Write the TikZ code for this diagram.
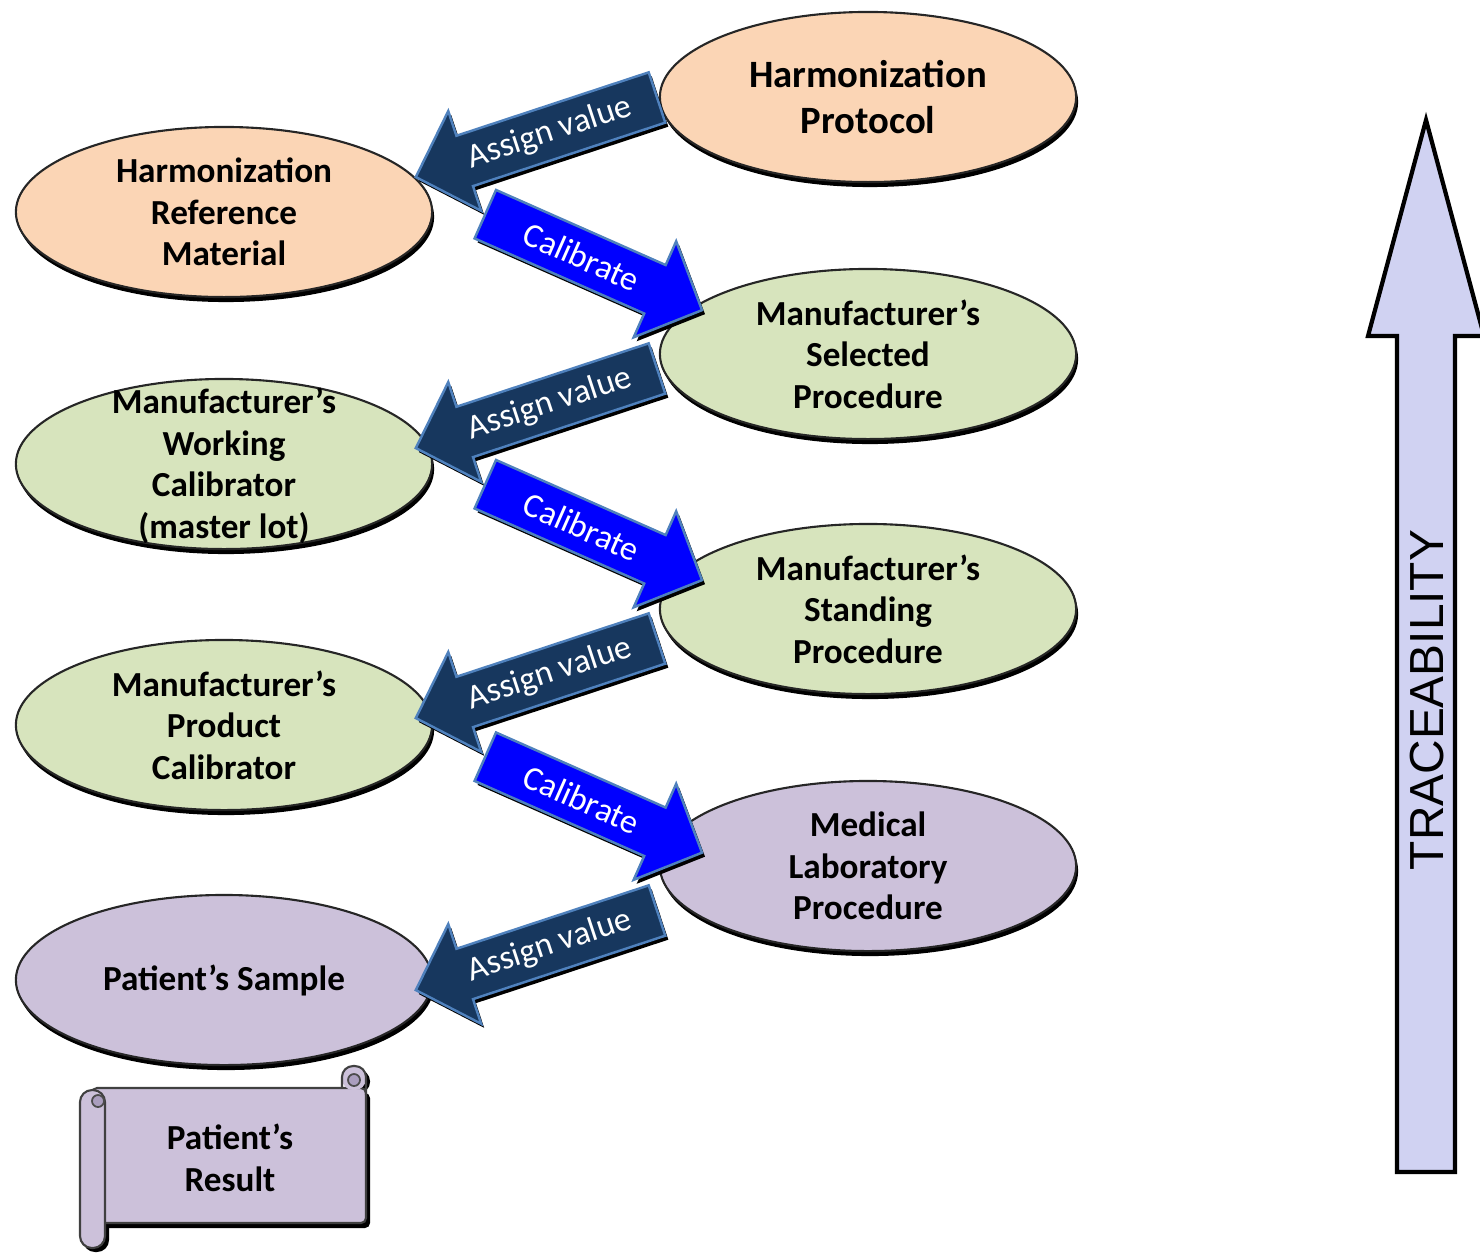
\documentclass[tikz,border=0pt]{standalone}
\usepackage{fontspec}
\setmainfont{Carlito}
\newfontfamily\arialf{Liberation Sans}
\usetikzlibrary{shapes.geometric,shadows}
\definecolor{peach}{RGB}{251,213,181}
\definecolor{sage}{RGB}{215,228,189}
\definecolor{lilac}{RGB}{204,193,218}
\definecolor{lilacdark}{RGB}{170,158,190}
\definecolor{navy}{RGB}{23,55,94}
\definecolor{edgeblue}{RGB}{79,129,189}
\definecolor{calblue}{RGB}{0,0,255}
\definecolor{tracefill}{RGB}{208,210,242}
\tikzset{
  ell/.style={ellipse, draw=black!85, line width=0.6pt, minimum width=4.16cm, minimum height=1.70cm, inner sep=0pt,
    drop shadow={shadow xshift=0.02cm, shadow yshift=-0.05cm, fill=black, opacity=1}},
  elltext/.style={font=\bfseries\fontsize{10}{11.8}\selectfont, align=center, inner sep=0pt},
  arrowtext/.style={font=\fontsize{9.7}{11}\selectfont, text=white, inner sep=0pt},
}
% tailx, taily, angle, length, fill, text, textangle, name
\newcommand\barrow[8]{%
  \begin{scope}[shift={(#1+3,#2+4)},rotate=#3]
    \fill[black] (0,-26.5) -- (#4-51.5,-26.5) -- (#4-51.5,-52.5) -- (#4,0) -- (#4-51.5,52.5) -- (#4-51.5,26.5) -- (0,26.5) -- cycle;
  \end{scope}
  \begin{scope}[shift={(#1,#2)},rotate=#3]
    \draw[edgeblue, fill=#5, line width=0.7pt, line join=miter] (0,-26.5) -- (#4-51.5,-26.5) -- (#4-51.5,-52.5) -- (#4,0) -- (#4-51.5,52.5) -- (#4-51.5,26.5) -- (0,26.5) -- cycle;
    \node[arrowtext, rotate=#7] (#8) at (0.445*#4,0) {#6};
  \end{scope}}
\begin{document}
\begin{tikzpicture}[x=0.01cm, y=-0.01cm]
\useasboundingbox (0,0) rectangle (1480,1254);

% ellipses
\node[ell, fill=peach] (hp) at (868,97) {};
\node[elltext, font=\bfseries\fontsize{11}{13.1}\selectfont] (hpT) at (hp) {Harmonization\\Protocol};
\node[ell, fill=peach] (hrm) at (224,212) {};
\node[elltext] (hrmT) at (hrm) {Harmonization\\Reference\\Material};
\node[ell, fill=sage] (msp) at (868,354) {};
\node[elltext] (mspT) at (msp) {Manufacturer’s\\Selected\\Procedure};
\node[ell, fill=sage] (mwc) at (224,464) {};
\node[elltext] (mwcT) at ([yshift=-0.02cm]mwc) {Manufacturer’s\\Working\\Calibrator\\(master lot)};
\node[ell, fill=sage] (mstp) at (868,609) {};
\node[elltext] (mstpT) at (mstp) {Manufacturer’s\\Standing\\Procedure};
\node[ell, fill=sage] (mpc) at (224,725) {};
\node[elltext] (mpcT) at (mpc) {Manufacturer’s\\Product\\Calibrator};
\node[ell, fill=lilac] (mlp) at (868,866) {};
\node[elltext] (mlpT) at (mlp) {Medical\\Laboratory\\Procedure};
\node[ell, fill=lilac] (ps) at (224,980) {};
\node[elltext] (psT) at (ps) {Patient’s Sample};

% block arrows
\barrow{657}{97.5}{198.26}{254}{navy}{Assign value}{18.26}{a1}
\barrow{485.3}{214.2}{-23.88}{237}{calblue}{Calibrate}{-23.88}{c1}
\barrow{657}{368.5}{198.26}{254}{navy}{Assign value}{18.26}{a2}
\barrow{485.3}{484.2}{-23.88}{237}{calblue}{Calibrate}{-23.88}{c2}
\barrow{657}{638.5}{198.26}{254}{navy}{Assign value}{18.26}{a3}
\barrow{485.3}{756.7}{-23.88}{237}{calblue}{Calibrate}{-23.88}{c3}
\barrow{657}{910.5}{198.26}{254}{navy}{Assign value}{18.26}{a4}

% scroll
\fill[black, rounded corners=0.05cm] (95,1093) rectangle (370,1228);
\fill[black, rounded corners=0.12cm] (83,1094) rectangle (109,1252);
\fill[black, rounded corners=0.11cm] (345,1070) rectangle (370,1093);
\draw[fill=lilac, draw=black!75, line width=0.6pt, rounded corners=0.05cm] (92,1088) rectangle (366,1223);
\fill[lilac, rounded corners=0.11cm] (342,1090) -- (342,1066) -- (366,1066) -- (366,1090) -- cycle;
\draw[black!75, line width=0.6pt, rounded corners=0.11cm] (342,1088) -- (342,1066) -- (366,1066) -- (366,1095);
\draw[fill=lilacdark, draw=black!70, line width=0.5pt] (354,1080) circle[radius=6];
\draw[fill=lilac, draw=black!75, line width=0.6pt, rounded corners=0.12cm] (80,1090) rectangle (105,1248);
\draw[fill=lilacdark, draw=black!70, line width=0.5pt] (98,1101) circle[radius=6];
\node[elltext] (pr) at (230,1158) {Patient’s\\Result};

% traceability arrow
\draw[fill=tracefill, draw=black, line width=1.2pt, line join=miter]
  (1426,120) -- (1484,336) -- (1455,336) -- (1455,1172) -- (1397,1172) -- (1397,336) -- (1368,336) -- cycle;
\node[rotate=90, font=\arialf\fontsize{13.6}{14}\selectfont, inner sep=0pt] (trace) at (1427,700) {TRACEABILITY};
\end{tikzpicture}
\end{document}
